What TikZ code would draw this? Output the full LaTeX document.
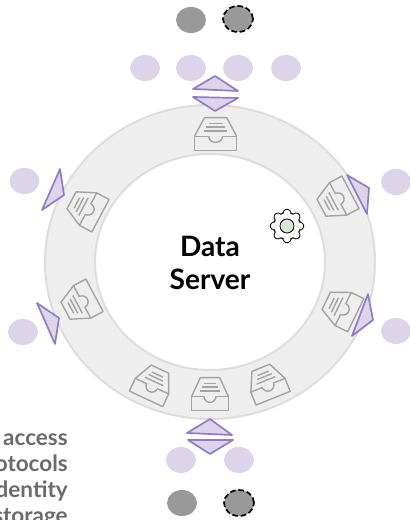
\documentclass[tikz,border=0pt]{standalone}
\usepackage{fontspec}
\setmainfont{Lato}
\usetikzlibrary{positioning}
\usetikzlibrary{shapes.geometric}

\definecolor{ringfill}{HTML}{EEEEEE}
\definecolor{ringline}{HTML}{DDDDDD}
\definecolor{trayline}{HTML}{A3A3A3}
\definecolor{lavender}{HTML}{DCD5EA}
\definecolor{purpleline}{HTML}{8E7CC8}
\definecolor{serverdot}{HTML}{999999}
\definecolor{gearfill}{HTML}{D5E8D4}

\tikzset{
    lavdot/.style={ellipse, fill=lavender, minimum width=0.75cm, minimum height=0.65cm, inner sep=0pt},
    graydot/.style={ellipse, fill=serverdot, minimum width=0.75cm, minimum height=0.65cm, inner sep=0pt},
    dashdot/.style={graydot, draw=black, dash pattern=on 4pt off 2pt, line width=1.2pt},
    port/.style={draw=purpleline, fill=lavender, line width=1.2pt, line join=round},
    tray/.pic={
        \draw[trayline, line width=1pt, line join=round]
            (-0.46,-0.41) rectangle (0.46,-0.06);
        \draw[trayline, line width=1pt, line join=round]
            (-0.46,-0.06) -- (-0.24,0.41) -- (0.24,0.41) -- (0.46,-0.06);
        \fill[ringfill] (-0.15,-0.06) arc (180:360:0.15) -- cycle;
        \draw[trayline, line width=1pt] (-0.15,-0.06) arc (180:360:0.15);
        \draw[ringfill, line width=1.1pt] (-0.13,-0.06) -- (0.13,-0.06);
        \draw[trayline, line width=1pt] (-0.15,0.26) -- (0.15,0.26);
        \draw[trayline, line width=1pt] (-0.2,0.17) -- (0.2,0.17);
        \draw[trayline, line width=1pt] (-0.25,0.07) -- (0.25,0.07);
    },
    gear/.pic={
        \draw[black, line width=0.6pt, rounded corners=1pt] (-9:0.42)
            \foreach \a in {0,45,...,315} {
                -- ({\a-9}:0.42) -- ({\a+9}:0.42) -- ({\a+17}:0.33) -- ({\a+28}:0.33)
            } -- cycle;
        \draw[black, line width=0.6pt, fill=gearfill] (0,0) circle (0.175);
    }
}

\begin{document}
\begin{tikzpicture}
    \useasboundingbox (-5.25,6.55) rectangle (4.975,-6.45);

    %Ring
    \draw[ringline, fill=ringfill, line width=1.4pt] (0,0) ellipse (4.125 and 3.925);
    \draw[ringline, fill=white, line width=1.4pt] (0,0) ellipse (2.875 and 2.7);

    %Nodes
    \node[font=\bfseries\fontsize{20}{23}\selectfont, align=center] at (0,-0.02) (DS) {Data\\Server};
    \node[font=\bfseries\fontsize{16}{18.5}\selectfont, text=black!58, align=right, anchor=east, inner sep=0pt] at (-3.55,-5.475) (LEG) {access\\protocols\\identity\\storage};

    \node[graydot] at (-0.475,6.05)  (S1) {};
    \node[dashdot] at (0.7,6.075)    (S2) {};
    \node[graydot] at (-0.7,-6.025)  (S3) {};
    \node[dashdot] at (0.725,-6.025) (S4) {};

    \node[lavdot] at (-1.625,4.85) (C1) {};
    \node[lavdot] at (-0.475,4.85) (C2) {};
    \node[lavdot] at (0.7,4.85)    (C3) {};
    \node[lavdot] at (1.9,4.85)    (C4) {};
    \node[lavdot] at (-4.64,2.025) (C5) {};
    \node[lavdot] at (-4.675,-1.75)(C6) {};
    \node[lavdot] at (4.65,2)      (C7) {};
    \node[lavdot] at (4.65,-1.725) (C8) {};
    \node[lavdot] at (-0.725,-4.95)(C9) {};
    \node[lavdot] at (0.725,-4.95) (C10) {};

    %Trays
    \pic[xshift=0.14cm, yshift=3.2cm, xscale=1.15] (TA) {tray};
    \pic[xshift=3.15cm, yshift=1.55cm, rotate=118] (TB) {tray};
    \pic[xshift=3.275cm, yshift=-1.15cm, rotate=64] (TC) {tray};
    \pic[xshift=1.425cm, yshift=-3.025cm, rotate=22] (TD) {tray};
    \pic[xshift=0cm, yshift=-3.3cm] (TE) {tray};
    \pic[xshift=-1.425cm, yshift=-3.05cm, rotate=-25] (TF) {tray};
    \pic[xshift=-3.25cm, yshift=-1.025cm, rotate=118] (TG) {tray};
    \pic[xshift=-3.1cm, yshift=1.35cm, rotate=62] (TH) {tray};

    \pic[xshift=1.925cm, yshift=0.9cm] (GR) {gear};

    %Ports
    \draw[port] (0.125,4.65) -- (-0.425,4.325) -- (0.7,4.275) -- cycle;
    \draw[port] (-0.425,4.125) -- (0.7,4.1) -- (0.125,3.775) -- cycle;
    \draw[port] (0,-3.925) -- (-0.575,-4.275) -- (0.55,-4.325) -- cycle;
    \draw[port] (-0.55,-4.45) -- (0.575,-4.45) -- (0,-4.8) -- cycle;
    \draw[port] (-3.75,2.325) -- (-3.65,1.675) -- (-4.2,1.3) -- cycle;
    \draw[port] (-4.325,-1.025) -- (-3.775,-1.4) -- (-3.875,-2.05) -- cycle;
    \draw[port] (3.425,2.175) -- (3.975,1.85) -- (3.925,1.2) -- cycle;
    \draw[port] (3.95,-0.8) -- (4.075,-1.45) -- (3.55,-1.85) -- cycle;
\end{tikzpicture}
\end{document}
